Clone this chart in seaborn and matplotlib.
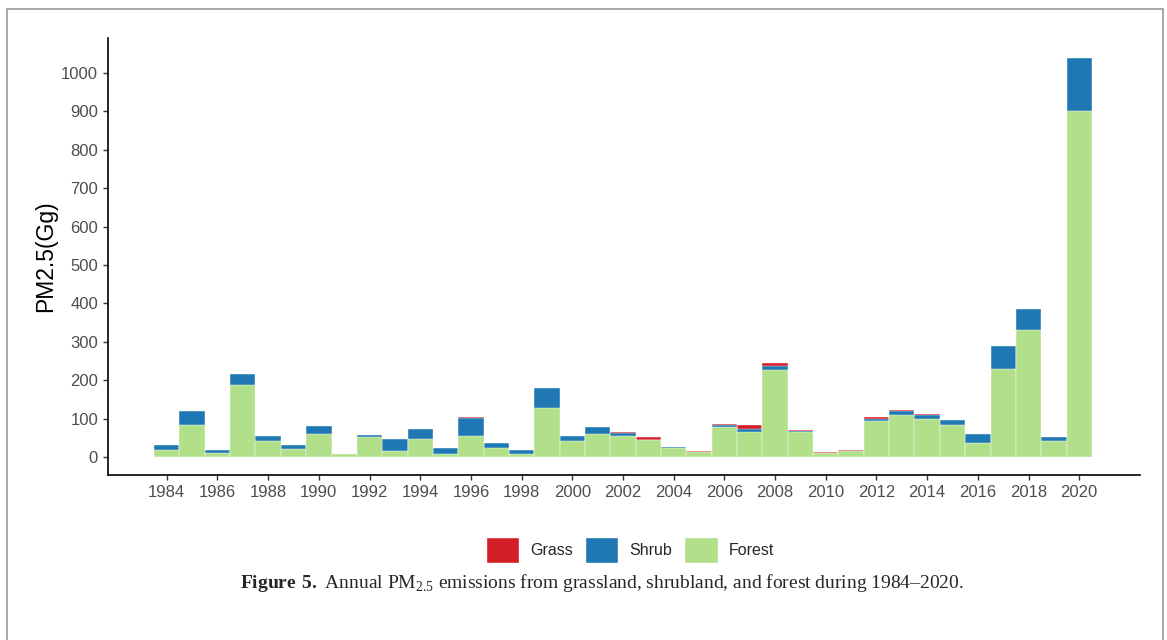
import matplotlib.pyplot as plt
import matplotlib.patches as mpatches
import pandas as pd
import seaborn as sns

years = list(range(1984, 2021))
forest = [18, 84, 11, 187, 42, 21, 61, 8, 51, 16, 47, 9, 55, 23, 7, 127, 42, 61, 55, 44,
          23, 12, 79, 65, 226, 66, 10, 15, 94, 109, 98, 82, 36, 230, 330, 41, 900]
shrub = [13, 36, 7, 29, 12, 10, 20, 1, 7, 30, 25, 15, 47, 13, 11, 52, 13, 16, 7, 1,
         2, 2, 3, 8, 11, 1, 1, 1, 6, 10, 12, 14, 23, 60, 55, 12, 138]
grass = [0, 0, 0, 0, 0, 0, 0, 0, 0, 0, 0, 0, 1, 0, 0, 0, 0, 0, 3, 8,
         2, 2, 4, 9, 7, 3, 1, 1, 4, 2, 1, 0, 0, 0, 0, 0, 2]
tick_years = list(range(1984, 2021, 2))

colors = {"Grass": "#D41E25", "Shrub": "#1F78B4", "Forest": "#B2DF8A"}

df = pd.DataFrame({"Year": [str(y) for y in years], "Forest": forest,
                   "Shrub": shrub, "Grass": grass})
# stacked heights: draw the tallest layer first, then overlay lower ones
df["Forest_top"] = df["Forest"]
df["Shrub_top"] = df["Forest"] + df["Shrub"]
df["Grass_top"] = df["Shrub_top"] + df["Grass"]

sns.set_style("ticks")
plt.rcParams["font.family"] = ["Liberation Sans", "DejaVu Sans"]
plt.rcParams["mathtext.fontset"] = "custom"
plt.rcParams["mathtext.rm"] = "Liberation Serif"
plt.rcParams["mathtext.bf"] = "Liberation Serif:bold"

fig = plt.figure(figsize=(11.67, 6.4), dpi=100)
ax = fig.add_axes([0.0925, 0.2578, 0.8844, 0.6828])

order = df["Year"].tolist()
for layer, col in [("Grass_top", "Grass"), ("Shrub_top", "Shrub"), ("Forest_top", "Forest")]:
    sns.barplot(data=df, x="Year", y=layer, order=order, color=colors[col],
                saturation=1, width=1.0, edgecolor="white", linewidth=0.3, ax=ax)

ax.set_xlim(-2.32, 38.4)
ax.set_ylim(-47, 1091)
ax.set_xticks([years.index(y) for y in tick_years])
ax.set_xticklabels([str(y) for y in tick_years])
ax.set_yticks(range(0, 1001, 100))
ax.set_xlabel("")
ax.set_ylabel("PM2.5(Gg)", fontsize=16.5, color="black", labelpad=3)
ax.tick_params(axis="both", labelsize=12, labelcolor="#4d4d4d", color="#333333",
               length=3.6, width=1)
sns.despine(ax=ax)
for side in ["left", "bottom"]:
    ax.spines[side].set_color("black")
    ax.spines[side].set_linewidth(1.2)

handles = [mpatches.Patch(facecolor=colors[k], label=k) for k in ["Grass", "Shrub", "Forest"]]
fig.legend(handles=handles, loc="center", bbox_to_anchor=(630 / 1167, 1 - 550 / 640),
           ncol=3, frameon=False, fontsize=11.5, handlelength=2.1, handleheight=2.1,
           handletextpad=0.7, columnspacing=0.75)

fig.text(0.516, 1 - 583 / 640,
         r"$\mathbf{Figure\ 5.}$ Annual PM$_{2.5}$ emissions from grassland, shrubland, and forest during 1984–2020.",
         ha="center", va="center", fontsize=14.0, family="Liberation Serif")

fig.patches.append(mpatches.Rectangle((7 / 1167, -0.01), 1156 / 1167, 1 - 9 / 640 + 0.01,
                                      transform=fig.transFigure, fill=False,
                                      edgecolor="#9a9a9a", linewidth=1.2))

fig.savefig("out.png", dpi=100)
